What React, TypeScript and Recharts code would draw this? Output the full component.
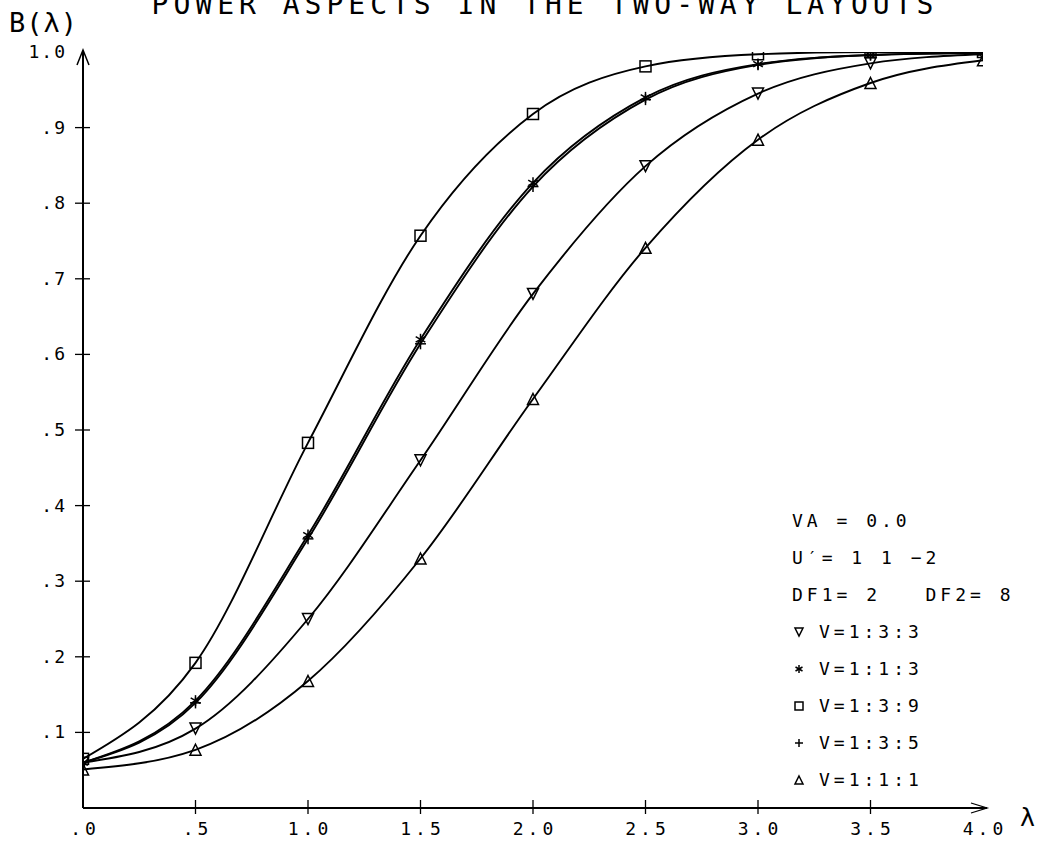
import React from 'react';
import { LineChart, Line, XAxis, YAxis } from 'recharts';

const LAMBDA = [0, 0.5, 1, 1.5, 2, 2.5, 3, 3.5, 4];
const V133 = [0.06, 0.105, 0.25, 0.46, 0.68, 0.849, 0.945, 0.985, 0.997];
const V113 = [0.06, 0.142, 0.361, 0.62, 0.827, 0.94, 0.984, 0.996, 0.999];
const V139 = [0.065, 0.192, 0.483, 0.757, 0.918, 0.981, 0.997, 1.0, 1.0];
const V135 = [0.06, 0.139, 0.356, 0.614, 0.822, 0.937, 0.983, 0.996, 0.999];
const V111 = [0.051, 0.077, 0.168, 0.33, 0.541, 0.741, 0.884, 0.959, 0.989];

const X_TICKS = [0, 0.5, 1, 1.5, 2, 2.5, 3, 3.5, 4];
const X_TICK_LABELS = ['.0', '.5', '1.0', '1.5', '2.0', '2.5', '3.0', '3.5', '4.0'];
const Y_TICKS = [0.1, 0.2, 0.3, 0.4, 0.5, 0.6, 0.7, 0.8, 0.9, 1.0];
const Y_TICK_LABELS = ['.1', '.2', '.3', '.4', '.5', '.6', '.7', '.8', '.9', '1.0'];

const TITLE = 'POWER ASPECTS IN THE TWO-WAY LAYOUTS';
const Y_LABEL = 'B(\u03BB)';
const X_LABEL = '\u03BB';
const INFO_LINES = ['VA = 0.0', 'U\u2032= 1 1 \u22122', 'DF1= 2   DF2= 8'];
const SERIES = [
  { key: 'v133', name: 'V=1:3:3', marker: 'down', values: V133 },
  { key: 'v113', name: 'V=1:1:3', marker: 'star', values: V113 },
  { key: 'v139', name: 'V=1:3:9', marker: 'square', values: V139 },
  { key: 'v135', name: 'V=1:3:5', marker: 'plus', values: V135 },
  { key: 'v111', name: 'V=1:1:1', marker: 'up', values: V111 },
];
const DRAW_ORDER = ['v135', 'v111', 'v133', 'v139', 'v113'];

const W = 1039;
const H = 846;
const PLOT_LEFT = 83;
const PLOT_RIGHT = 983;
const PLOT_TOP = 52;
const PLOT_BOTTOM = 808;
const FONT = '"DejaVu Sans Mono", monospace';

const data = LAMBDA.map((l, i) => {
  const row: any = { lambda: l };
  SERIES.forEach((s) => (row[s.key] = s.values[i]));
  return row;
});

function Marker({ kind, cx, cy, s }: { kind: string; cx: number; cy: number; s: number }) {
  const h = s / 2;
  const common = { stroke: '#000', strokeWidth: 1.5, fill: 'none' } as any;
  switch (kind) {
    case 'square':
      return <rect x={cx - h} y={cy - h} width={s} height={s} {...common} />;
    case 'down':
      return <polygon points={`${cx - h},${cy - h} ${cx + h},${cy - h} ${cx},${cy + h}`} {...common} />;
    case 'up':
      return <polygon points={`${cx},${cy - h} ${cx + h},${cy + h} ${cx - h},${cy + h}`} {...common} />;
    case 'plus':
      return (
        <g {...common}>
          <line x1={cx - h} y1={cy} x2={cx + h} y2={cy} />
          <line x1={cx} y1={cy - h} x2={cx} y2={cy + h} />
        </g>
      );
    case 'star':
    default:
      return (
        <g {...common}>
          <line x1={cx} y1={cy - h} x2={cx} y2={cy + h} />
          <line x1={cx - h * 0.87} y1={cy - h * 0.5} x2={cx + h * 0.87} y2={cy + h * 0.5} />
          <line x1={cx - h * 0.87} y1={cy + h * 0.5} x2={cx + h * 0.87} y2={cy - h * 0.5} />
        </g>
      );
  }
}

const XTick = (props: any) => {
  const { x, payload } = props;
  const label = X_TICK_LABELS[X_TICKS.indexOf(payload.value)] ?? '';
  const showLine = payload.value !== 0 && payload.value !== 4;
  return (
    <g>
      {showLine && <line x1={x} y1={PLOT_BOTTOM - 8} x2={x} y2={PLOT_BOTTOM + 6} stroke="#000" strokeWidth={1.3} />}
      <text
        x={x + 2}
        y={PLOT_BOTTOM + 27}
        textAnchor="middle"
        fontFamily={FONT}
        fontSize={18}
        style={{ letterSpacing: '4px' }}
        fill="#000"
      >
        {label}
      </text>
    </g>
  );
};

const YTick = (props: any) => {
  const { y, payload } = props;
  const idx = Y_TICKS.findIndex((t) => Math.abs(t - payload.value) < 1e-9);
  const label = Y_TICK_LABELS[idx] ?? '';
  const showLine = payload.value < 0.95;
  return (
    <g>
      {showLine && <line x1={PLOT_LEFT - 8} y1={y} x2={PLOT_LEFT + 7} y2={y} stroke="#000" strokeWidth={1.3} />}
      <text
        x={67}
        y={y + 6}
        textAnchor="end"
        fontFamily={FONT}
        fontSize={18}
        style={{ letterSpacing: '2px' }}
        fill="#000"
      >
        {label}
      </text>
    </g>
  );
};

const INFO_X = 792;
const ROW_Y0 = 521;
const ROW_DY = 37;

export default function App() {
  const seriesByKey: any = {};
  SERIES.forEach((s) => (seriesByKey[s.key] = s));
  return (
    <div style={{ position: 'absolute', left: 0, top: 0, width: W, height: H, background: '#fff' }}>
      <LineChart
        width={W}
        height={H}
        data={data}
        margin={{ top: PLOT_TOP, right: W - PLOT_RIGHT, bottom: H - PLOT_BOTTOM - 30, left: PLOT_LEFT - 70 }}
      >
        <XAxis
          dataKey="lambda"
          type="number"
          domain={[0, 4]}
          ticks={X_TICKS}
          interval={0}
          tick={<XTick />}
          tickLine={false}
          axisLine={{ stroke: '#000', strokeWidth: 2 }}
          height={30}
          allowDataOverflow
        />
        <YAxis
          type="number"
          domain={[0, 1]}
          ticks={Y_TICKS}
          interval={0}
          tick={<YTick />}
          tickLine={false}
          axisLine={{ stroke: '#000', strokeWidth: 2 }}
          width={70}
          allowDataOverflow
        />
        {DRAW_ORDER.map((k) => {
          const s = seriesByKey[k];
          return (
            <Line
              key={k}
              dataKey={k}
              type="monotone"
              stroke="#000"
              strokeWidth={1.9}
              isAnimationActive={false}
              dot={(p: any) => (
                <Marker key={`${k}-${p.index}`} kind={s.marker} cx={p.cx} cy={p.cy} s={11} />
              )}
              activeDot={false}
            />
          );
        })}
      </LineChart>
      <svg
        width={W}
        height={H}
        style={{ position: 'absolute', left: 0, top: 0, pointerEvents: 'none' }}
      >
        <text
          x={545}
          y={14}
          textAnchor="middle"
          fontFamily={FONT}
          fontSize={28}
          style={{ letterSpacing: '5px' }}
          fill="#000"
        >
          {TITLE}
        </text>
        <text x={9} y={32} fontFamily={FONT} fontSize={27} style={{ letterSpacing: '1px' }} fill="#000">
          {Y_LABEL}
        </text>
        <text x={1020} y={826} fontFamily={FONT} fontSize={25} fill="#000">
          {X_LABEL}
        </text>
        <polyline
          points={`${PLOT_LEFT - 6},${PLOT_TOP + 13} ${PLOT_LEFT},${PLOT_TOP - 2} ${PLOT_LEFT + 6},${PLOT_TOP + 13}`}
          fill="none"
          stroke="#000"
          strokeWidth={1.5}
        />
        <line x1={PLOT_RIGHT} y1={PLOT_BOTTOM} x2={PLOT_RIGHT + 4} y2={PLOT_BOTTOM} stroke="#000" strokeWidth={2} />
        <polyline
          points={`${PLOT_RIGHT - 12},${PLOT_BOTTOM - 5} ${PLOT_RIGHT + 4},${PLOT_BOTTOM} ${PLOT_RIGHT - 12},${PLOT_BOTTOM + 5}`}
          fill="none"
          stroke="#000"
          strokeWidth={1.3}
        />
        {INFO_LINES.map((t, i) => (
          <text
            key={t}
            x={INFO_X}
            y={ROW_Y0 + i * ROW_DY + 6}
            fontFamily={FONT}
            fontSize={18}
            style={{ letterSpacing: '4px', whiteSpace: 'pre' }}
            fill="#000"
          >
            {t}
          </text>
        ))}
        {SERIES.map((s, i) => {
          const cy = ROW_Y0 + (INFO_LINES.length + i) * ROW_DY;
          return (
            <g key={s.key}>
              <Marker kind={s.marker} cx={INFO_X + 7} cy={cy} s={8} />
              <text
                x={INFO_X + 27}
                y={cy + 6}
                fontFamily={FONT}
                fontSize={18}
                style={{ letterSpacing: '4px' }}
                fill="#000"
              >
                {s.name}
              </text>
            </g>
          );
        })}
      </svg>
    </div>
  );
}
